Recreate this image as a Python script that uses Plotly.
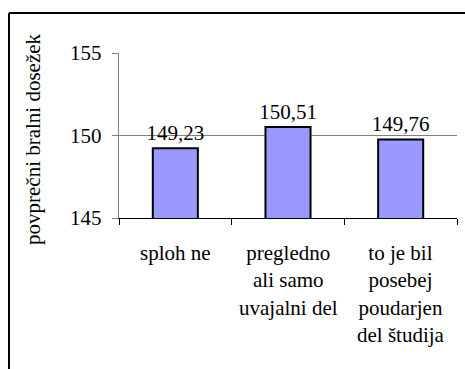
import plotly.graph_objects as go

# Average reading score per answer group
categories = [
    "sploh ne",
    "pregledno<br>ali samo<br>uvajalni del",
    "to je bil<br>posebej<br>poudarjen<br>del študija",
]
scores = [149.23, 150.51, 149.76]
y_ticks = [145, 150, 155]
y_title = "povprečni bralni dosežek"

W, H = 465, 369
L, R, T, B = 119, 8, 53, 151
SERIF = "Liberation Serif"
SIZE = 21


def font():
    return dict(family=SERIF, size=SIZE, color="black")


labels = [f"{v:.2f}".replace(".", ",") for v in scores]

fig = go.Figure(
    go.Bar(
        x=categories,
        y=scores,
        text=labels,
        textposition="outside",
        textfont=font(),
        constraintext="none",
        cliponaxis=False,
        marker=dict(color="#9999FF", line=dict(color="black", width=2)),
        width=0.4,
    )
)

pw, ph = W - L - R, H - T - B


def px_to_paper_x(px):
    return (px - L) / pw


def px_to_paper_y(py):
    return (H - B - py) / ph


fig.update_layout(
    template="none",
    width=W,
    height=H,
    margin=dict(l=L, r=R, t=T, b=B),
    paper_bgcolor="white",
    plot_bgcolor="white",
    font=font(),
    showlegend=False,
)
fig.update_xaxes(
    type="category",
    tickson="boundaries",
    ticks="outside",
    ticklen=6,
    tickcolor="black",
    showline=True,
    linecolor="black",
    linewidth=1,
    showgrid=False,
    showticklabels=False,
)
fig.update_yaxes(
    range=[145, 155],
    tickvals=y_ticks,
    ticks="outside",
    ticklen=6,
    tickcolor="#808080",
    showline=True,
    linecolor="#808080",
    linewidth=1,
    showgrid=True,
    gridcolor="#808080",
    gridwidth=1,
    zeroline=False,
    showticklabels=False,
)

# value-axis labels
for v in y_ticks:
    fig.add_annotation(
        text=str(v), xref="paper", yref="y",
        x=px_to_paper_x(104), y=v,
        xanchor="right", yanchor="middle",
        showarrow=False, font=font(),
    )

# category labels below the axis
for c in categories:
    fig.add_annotation(
        text=c, xref="x", yref="paper",
        x=c, y=px_to_paper_y(239),
        xanchor="center", yanchor="top", align="center",
        showarrow=False, font=font(),
    )

fig.add_annotation(
    text=y_title,
    xref="paper",
    yref="paper",
    x=px_to_paper_x(33),
    y=px_to_paper_y(139),
    textangle=-90,
    showarrow=False,
    font=font(),
    xanchor="center",
    yanchor="middle",
)

# outer chart frame (left and top edges)
frame = dict(color="black", width=2)
fig.add_shape(type="line", xref="paper", yref="paper",
              x0=px_to_paper_x(9), x1=px_to_paper_x(9),
              y0=px_to_paper_y(H + 5), y1=px_to_paper_y(13), line=frame)
fig.add_shape(type="line", xref="paper", yref="paper",
              x0=px_to_paper_x(9), x1=px_to_paper_x(W + 5),
              y0=px_to_paper_y(13), y1=px_to_paper_y(13), line=frame)

fig.write_html("out.html")
